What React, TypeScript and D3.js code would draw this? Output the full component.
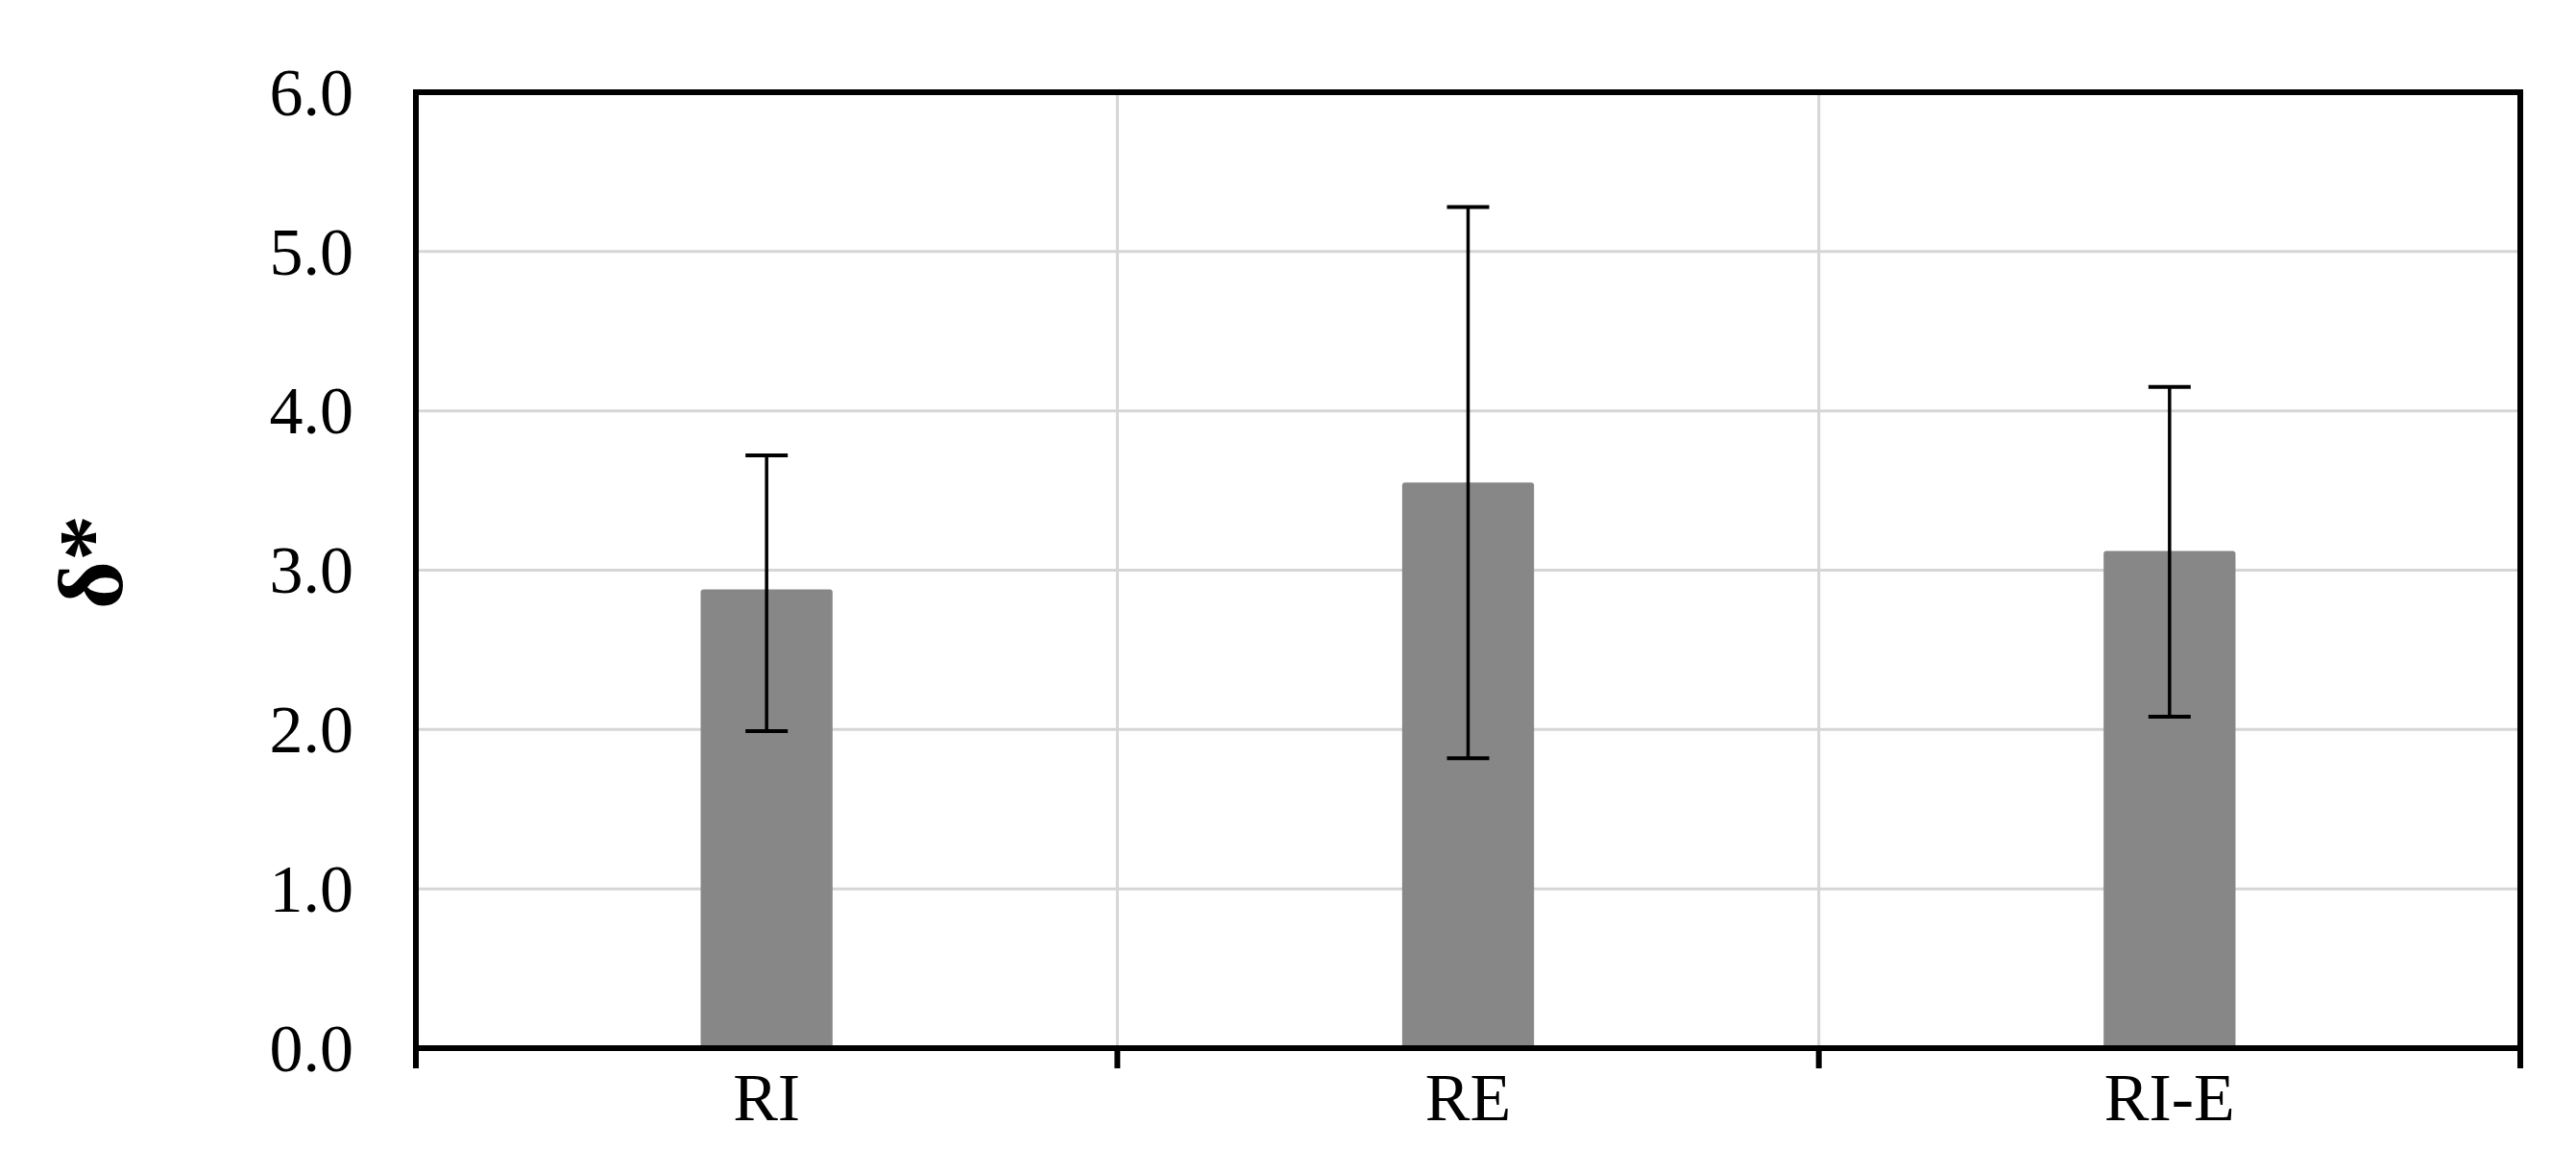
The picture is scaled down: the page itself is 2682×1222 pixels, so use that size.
import React from "react";
import * as d3 from "d3";

const categories = ["RI", "RE", "RI-E"];
const means = [2.88, 3.55, 3.12];
const errUpper = [3.72, 5.28, 4.15];
const errLower = [1.99, 1.82, 2.08];
const yTicks = [0, 1, 2, 3, 4, 5, 6];
const yTitle = "δ*";

const W = 2682;
const H = 1222;
const M = { left: 433, top: 96, right: 2624, bottom: 1091 };

export default function App() {
  const x = d3.scaleBand<string>().domain(categories).range([M.left, M.right]).paddingInner(0).paddingOuter(0);
  const y = d3.scaleLinear().domain([0, 6]).range([M.bottom, M.top]);
  const bw = x.bandwidth() * 0.188;
  const capW = 44;
  const boundaries = [M.left, ...categories.map((c) => (x(c) as number) + x.bandwidth())];
  const font = "'Liberation Serif', 'Times New Roman', serif";

  return (
    <svg width={W} height={H} style={{ position: "absolute", left: 0, top: 0, background: "#fff" }}>
      <rect x={0} y={0} width={W} height={H} fill="#fff" />
      {/* horizontal gridlines */}
      {yTicks.slice(1, -1).map((t) => (
        <line key={"h" + t} x1={M.left} x2={M.right} y1={y(t)} y2={y(t)} stroke="#d6d6d6" strokeWidth={3} />
      ))}
      {/* vertical gridlines */}
      {boundaries.slice(1, -1).map((b, i) => (
        <line key={"v" + i} x1={b} x2={b} y1={M.top} y2={M.bottom} stroke="#d6d6d6" strokeWidth={3} />
      ))}
      {/* bars */}
      {categories.map((c, i) => {
        const cx = (x(c) as number) + x.bandwidth() / 2;
        return (
          <rect key={c} x={cx - bw / 2} y={y(means[i])} width={bw} height={y(0) - y(means[i])} fill="#878787" rx={3} />
        );
      })}
      {/* error bars */}
      {categories.map((c, i) => {
        const cx = (x(c) as number) + x.bandwidth() / 2;
        return (
          <g key={"e" + c} stroke="#000">
            <line x1={cx} x2={cx} y1={y(errUpper[i])} y2={y(errLower[i])} strokeWidth={3.5} />
            <line x1={cx - capW / 2} x2={cx + capW / 2} y1={y(errUpper[i])} y2={y(errUpper[i])} strokeWidth={4} />
            <line x1={cx - capW / 2} x2={cx + capW / 2} y1={y(errLower[i])} y2={y(errLower[i])} strokeWidth={4} />
          </g>
        );
      })}
      {/* plot border */}
      <rect x={M.left} y={M.top} width={M.right - M.left} height={M.bottom - M.top} fill="none" stroke="#000" strokeWidth={6} />
      {/* x ticks */}
      {boundaries.map((b, i) => (
        <line key={"t" + i} x1={b} x2={b} y1={M.bottom} y2={M.bottom + 21} stroke="#000" strokeWidth={6} />
      ))}
      {/* y tick labels */}
      {yTicks.map((t) => (
        <text key={"y" + t} x={368} y={y(t)} dy="0.34em" textAnchor="end" fontFamily={font} fontSize={70} fill="#000">
          {t.toFixed(1)}
        </text>
      ))}
      {/* x labels */}
      {categories.map((c) => (
        <text key={"x" + c} x={(x(c) as number) + x.bandwidth() / 2} y={1166} textAnchor="middle" fontFamily={font} fontSize={70} fill="#000">
          {c}
        </text>
      ))}
      {/* y title */}
      <text transform={`translate(127, ${585}) rotate(-90)`} textAnchor="middle" fontFamily={font} fontSize={96} fontWeight="bold" fill="#000">
        {yTitle}
      </text>
    </svg>
  );
}
